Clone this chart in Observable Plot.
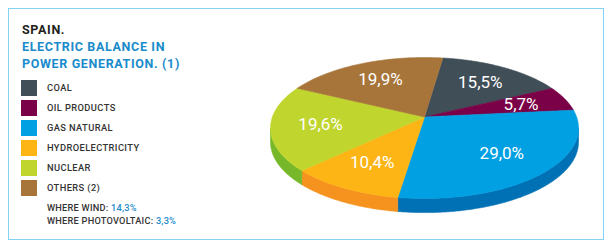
<!DOCTYPE html>
<html>
<head>
<meta charset="utf-8">
<script src="https://cdn.jsdelivr.net/npm/d3@7"></script>
<script src="https://cdn.jsdelivr.net/npm/@observablehq/plot@0.6"></script>
<style>
  body { margin: 0; background: #fff; }
  #wrap { position: relative; width: 611px; height: 249px; font-family: Roboto, "DejaVu Sans", sans-serif; overflow: hidden; }
  #chart { position: absolute; left: 0; top: 0; }
  #frame { position: absolute; left: 8px; top: 8px; width: 594px; height: 230px; border: 1px solid #84d2f1; pointer-events: none; }
  #title { position: absolute; left: 22px; top: 20.5px; font-size: 12.5px; line-height: 17px; font-weight: 700; letter-spacing: 0.65px; white-space: nowrap; }
  #title .t1 { color: #231f20; }
  #title .t2 { color: #1a8bcb; }
  #legend { position: absolute; left: 21px; top: 78px; }
  .row { height: 20px; display: flex; align-items: flex-start; }
  .sw { width: 16px; height: 16px; margin-top: 2px; box-sizing: border-box; }
  .lab { margin-left: 10px; font-size: 9.3px; line-height: 20px; font-weight: 500; letter-spacing: 0.4px; color: #333; white-space: nowrap; }
  #notes { position: absolute; left: 47px; top: 201px; font-size: 9.2px; line-height: 13.3px; font-weight: 500; letter-spacing: 0.25px; color: #333; white-space: nowrap; }
  #notes .v { color: #1a8bcb; }
</style>
</head>
<body>
<div id="wrap">
  <div id="chart"></div>
  <div id="frame"></div>
  <div id="title"></div>
  <div id="legend"></div>
  <div id="notes"></div>
</div>
<script>
// ---- data ----
const titleLines = ["SPAIN.", "ELECTRIC BALANCE IN", "POWER GENERATION. (1)"];
const categories = ["COAL", "OIL PRODUCTS", "GAS NATURAL", "HYDROELECTRICITY", "NUCLEAR", "OTHERS (2)"];
const values = [15.5, 5.7, 29.0, 10.4, 19.6, 19.9];
const valueLabels = ["15,5%", "5,7%", "29,0%", "10,4%", "19,6%", "19,9%"];
const noteLabels = ["WHERE WIND:", "WHERE PHOTOVOLTAIC:"];
const noteValues = ["14,3%", "3,3%"];
const topColors = ["#404e58", "#7a0047", "#00a0e2", "#fdb515", "#c0d62f", "#a7753a"];
const sideColors = ["#2c373f", "#560032", "#0071b4", "#f6921e", "#77b82a", "#7d5629"];

// ---- pie geometry (layout settings) ----
const cx = 424, cy = 127.5, rx = 154, ry = 70.5;
const startDeg = -82;      // angle where the first slice starts (clockwise)
const tilt = 0.157;        // perspective shift of the centre, in radii
const depth = 0.2;         // thickness of the pie, in radii
const labelR = 0.68;

const sq = Math.sqrt(1 - tilt * tilt);
function project(x, y) {
  const d = 1 - tilt * y;
  return [x * sq / d, (y - tilt) / d];
}

const total = d3.sum(values);
let acc = startDeg * Math.PI / 180;
const slices = categories.map((c, i) => {
  const a0 = acc;
  const a1 = acc + values[i] / total * 2 * Math.PI;
  acc = a1;
  return {key: c, a0, a1, label: valueLabels[i]};
});

function arcPts(a0, a1) {
  const n = Math.max(2, Math.ceil((a1 - a0) / 0.01));
  const pts = [];
  for (let j = 0; j <= n; j++) {
    const a = a0 + (a1 - a0) * j / n;
    pts.push(project(Math.cos(a), Math.sin(a)));
  }
  return pts;
}

const tops = [];
const sides = [];
const visLo = Math.asin(tilt), visHi = Math.PI - Math.asin(tilt);
slices.forEach(s => {
  const apex = project(0, 0);
  const pts = [apex, ...arcPts(s.a0, s.a1), apex];
  pts.forEach(([x, y]) => tops.push({key: s.key, x, y}));
  const lo = Math.max(s.a0, visLo), hi = Math.min(s.a1, visHi);
  if (hi > lo) {
    const arc = arcPts(lo, hi);
    const key = s.key + " side";
    arc.forEach(([x, y]) => sides.push({key, x, y}));
    arc.slice().reverse().forEach(([x, y]) => sides.push({key, x, y: y + depth}));
    sides.push({key, x: arc[0][0], y: arc[0][1]});
  }
});

const labelData = slices.map(s => {
  const m = (s.a0 + s.a1) / 2;
  const [x, y] = project(labelR * Math.cos(m), labelR * Math.sin(m));
  return {x, y, label: s.label};
});

const chart = Plot.plot({
  width: 611,
  height: 249,
  margin: 0,
  x: {domain: [-1, 1], range: [cx - rx, cx + rx], axis: null},
  y: {domain: [-1, 1], range: [cy - ry, cy + ry], axis: null},
  color: {
    domain: categories.concat(categories.map(c => c + " side")),
    range: topColors.concat(sideColors)
  },
  style: {background: "transparent", fontFamily: "Roboto, sans-serif"},
  marks: [
    Plot.line(sides, {x: "x", y: "y", z: "key", fill: "key", stroke: "key", strokeWidth: 0.6, curve: "linear"}),
    Plot.line(tops, {x: "x", y: "y", z: "key", fill: "key", stroke: "key", strokeWidth: 0.6, curve: "linear"}),
    Plot.text(labelData, {x: "x", y: "y", text: "label", fill: "white", fontSize: 17, fontWeight: 400, letterSpacing: 0.3})
  ]
});
document.getElementById("chart").appendChild(chart);

// ---- title & legend ----
const title = document.getElementById("title");
titleLines.forEach((t, i) => {
  const d = document.createElement("div");
  d.className = i === 0 ? "t1" : "t2";
  d.textContent = t;
  title.appendChild(d);
});
const legend = document.getElementById("legend");
categories.forEach((c, i) => {
  const row = document.createElement("div");
  row.className = "row";
  const sw = document.createElement("div");
  sw.className = "sw";
  sw.style.background = topColors[i];
  const lab = document.createElement("div");
  lab.className = "lab";
  lab.textContent = c;
  row.appendChild(sw);
  row.appendChild(lab);
  legend.appendChild(row);
});
const notes = document.getElementById("notes");
noteLabels.forEach((t, i) => {
  const d = document.createElement("div");
  d.textContent = t + " ";
  const v = document.createElement("span");
  v.className = "v";
  v.textContent = noteValues[i];
  d.appendChild(v);
  notes.appendChild(d);
});
</script>
</body>
</html>
